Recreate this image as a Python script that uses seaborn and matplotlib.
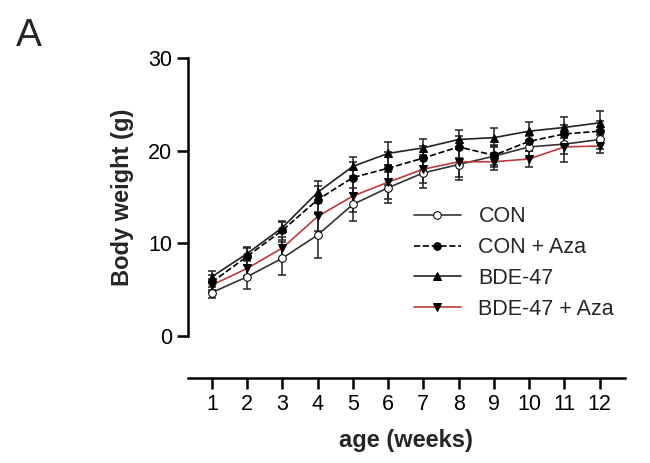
import matplotlib
matplotlib.use("Agg")
import matplotlib.pyplot as plt
import seaborn as sns
import pandas as pd
import numpy as np

sns.set_theme(style="ticks")
plt.rcParams['font.family'] = ['Liberation Sans', 'DejaVu Sans']

weeks = list(range(1, 13))
con = [4.7, 6.4, 8.4, 10.9, 14.2, 16.0, 17.6, 18.5, 19.4, 20.4, 20.7, 21.2]
con_err = [0.6, 1.3, 1.8, 2.5, 1.8, 1.7, 1.6, 1.7, 1.2, 1.2, 1.1, 1.0]
con_aza = [5.8, 8.6, 11.4, 14.7, 17.1, 18.1, 19.2, 20.4, 19.5, 21.0, 21.8, 22.1]
con_aza_err = [0.8, 0.9, 1.0, 1.5, 1.7, 1.8, 1.3, 1.2, 1.0, 1.0, 1.0, 1.1]
bde = [6.4, 8.9, 11.7, 15.5, 18.3, 19.7, 20.3, 21.2, 21.4, 22.1, 22.5, 23.0]
bde_err = [0.6, 0.7, 0.6, 1.2, 1.0, 1.2, 1.0, 1.0, 1.0, 1.0, 1.1, 1.3]
bde_aza = [5.5, 7.3, 9.5, 12.9, 15.1, 16.6, 18.0, 18.8, 18.8, 19.1, 20.4, 20.5]
bde_aza_err = [0.7, 0.8, 1.2, 1.6, 1.7, 1.8, 1.5, 1.6, 0.9, 0.9, 1.6, 0.8]

series = [
    ("CON", con, con_err, dict(color="#333333", ls="-", marker="o", mfc="white")),
    ("CON + Aza", con_aza, con_aza_err, dict(color="black", ls="--", marker="o", mfc="black")),
    ("BDE-47", bde, bde_err, dict(color="#222222", ls="-", marker="^", mfc="black")),
    ("BDE-47 + Aza", bde_aza, bde_aza_err, dict(color="#c0393b", ls="-", marker="v", mfc="black")),
]

fig = plt.figure(figsize=(6.5, 4.63), dpi=100)
ax = fig.add_axes([0.289, 0.274, 0.672, 0.601])

rows = []
for name, vals, errs, st in series:
    for w, v in zip(weeks, vals):
        rows.append({"week": w, "weight": v, "group": name})
df = pd.DataFrame(rows)

for name, vals, errs, st in series:
    sub = df[df.group == name]
    ax.errorbar(sub.week, sub.weight, yerr=errs, fmt="none", ecolor="#222222",
                elinewidth=1.1, capsize=3, capthick=1.1, zorder=2)
    sns.lineplot(data=sub, x="week", y="weight", ax=ax, color=st["color"],
                 linestyle=st["ls"], marker=st["marker"], markerfacecolor=st["mfc"],
                 markeredgecolor="black", markersize=5.5, linewidth=1.2,
                 label=name, zorder=3)

leg = ax.legend(loc="lower right", bbox_to_anchor=(1.02, -0.01), frameon=False,
                fontsize=15.5, handlelength=2.2, labelspacing=0.45, handletextpad=0.8)
for t in leg.get_lines():
    t.set_markeredgecolor("black")

ax.set_xlim(0.32, 12.71)
ax.set_ylim(0, 30)
ax.set_yticks([0, 10, 20, 30])
ax.set_xticks(weeks)
ax.spines["top"].set_visible(False)
ax.spines["right"].set_visible(False)
ax.spines["bottom"].set_position(("outward", 30))
for s in ("left", "bottom"):
    ax.spines[s].set_linewidth(1.8)
    ax.spines[s].set_color("black")
ax.tick_params(width=1.8, length=8, labelsize=15.5, colors="black")
ax.set_xlabel("age (weeks)", fontsize=17, fontweight="bold", labelpad=10)
ax.set_ylabel("Body weight (g)", fontsize=17, fontweight="bold", labelpad=10)
fig.text(0.025, 0.9, "A", fontsize=28)

fig.savefig("out.png", dpi=100)
